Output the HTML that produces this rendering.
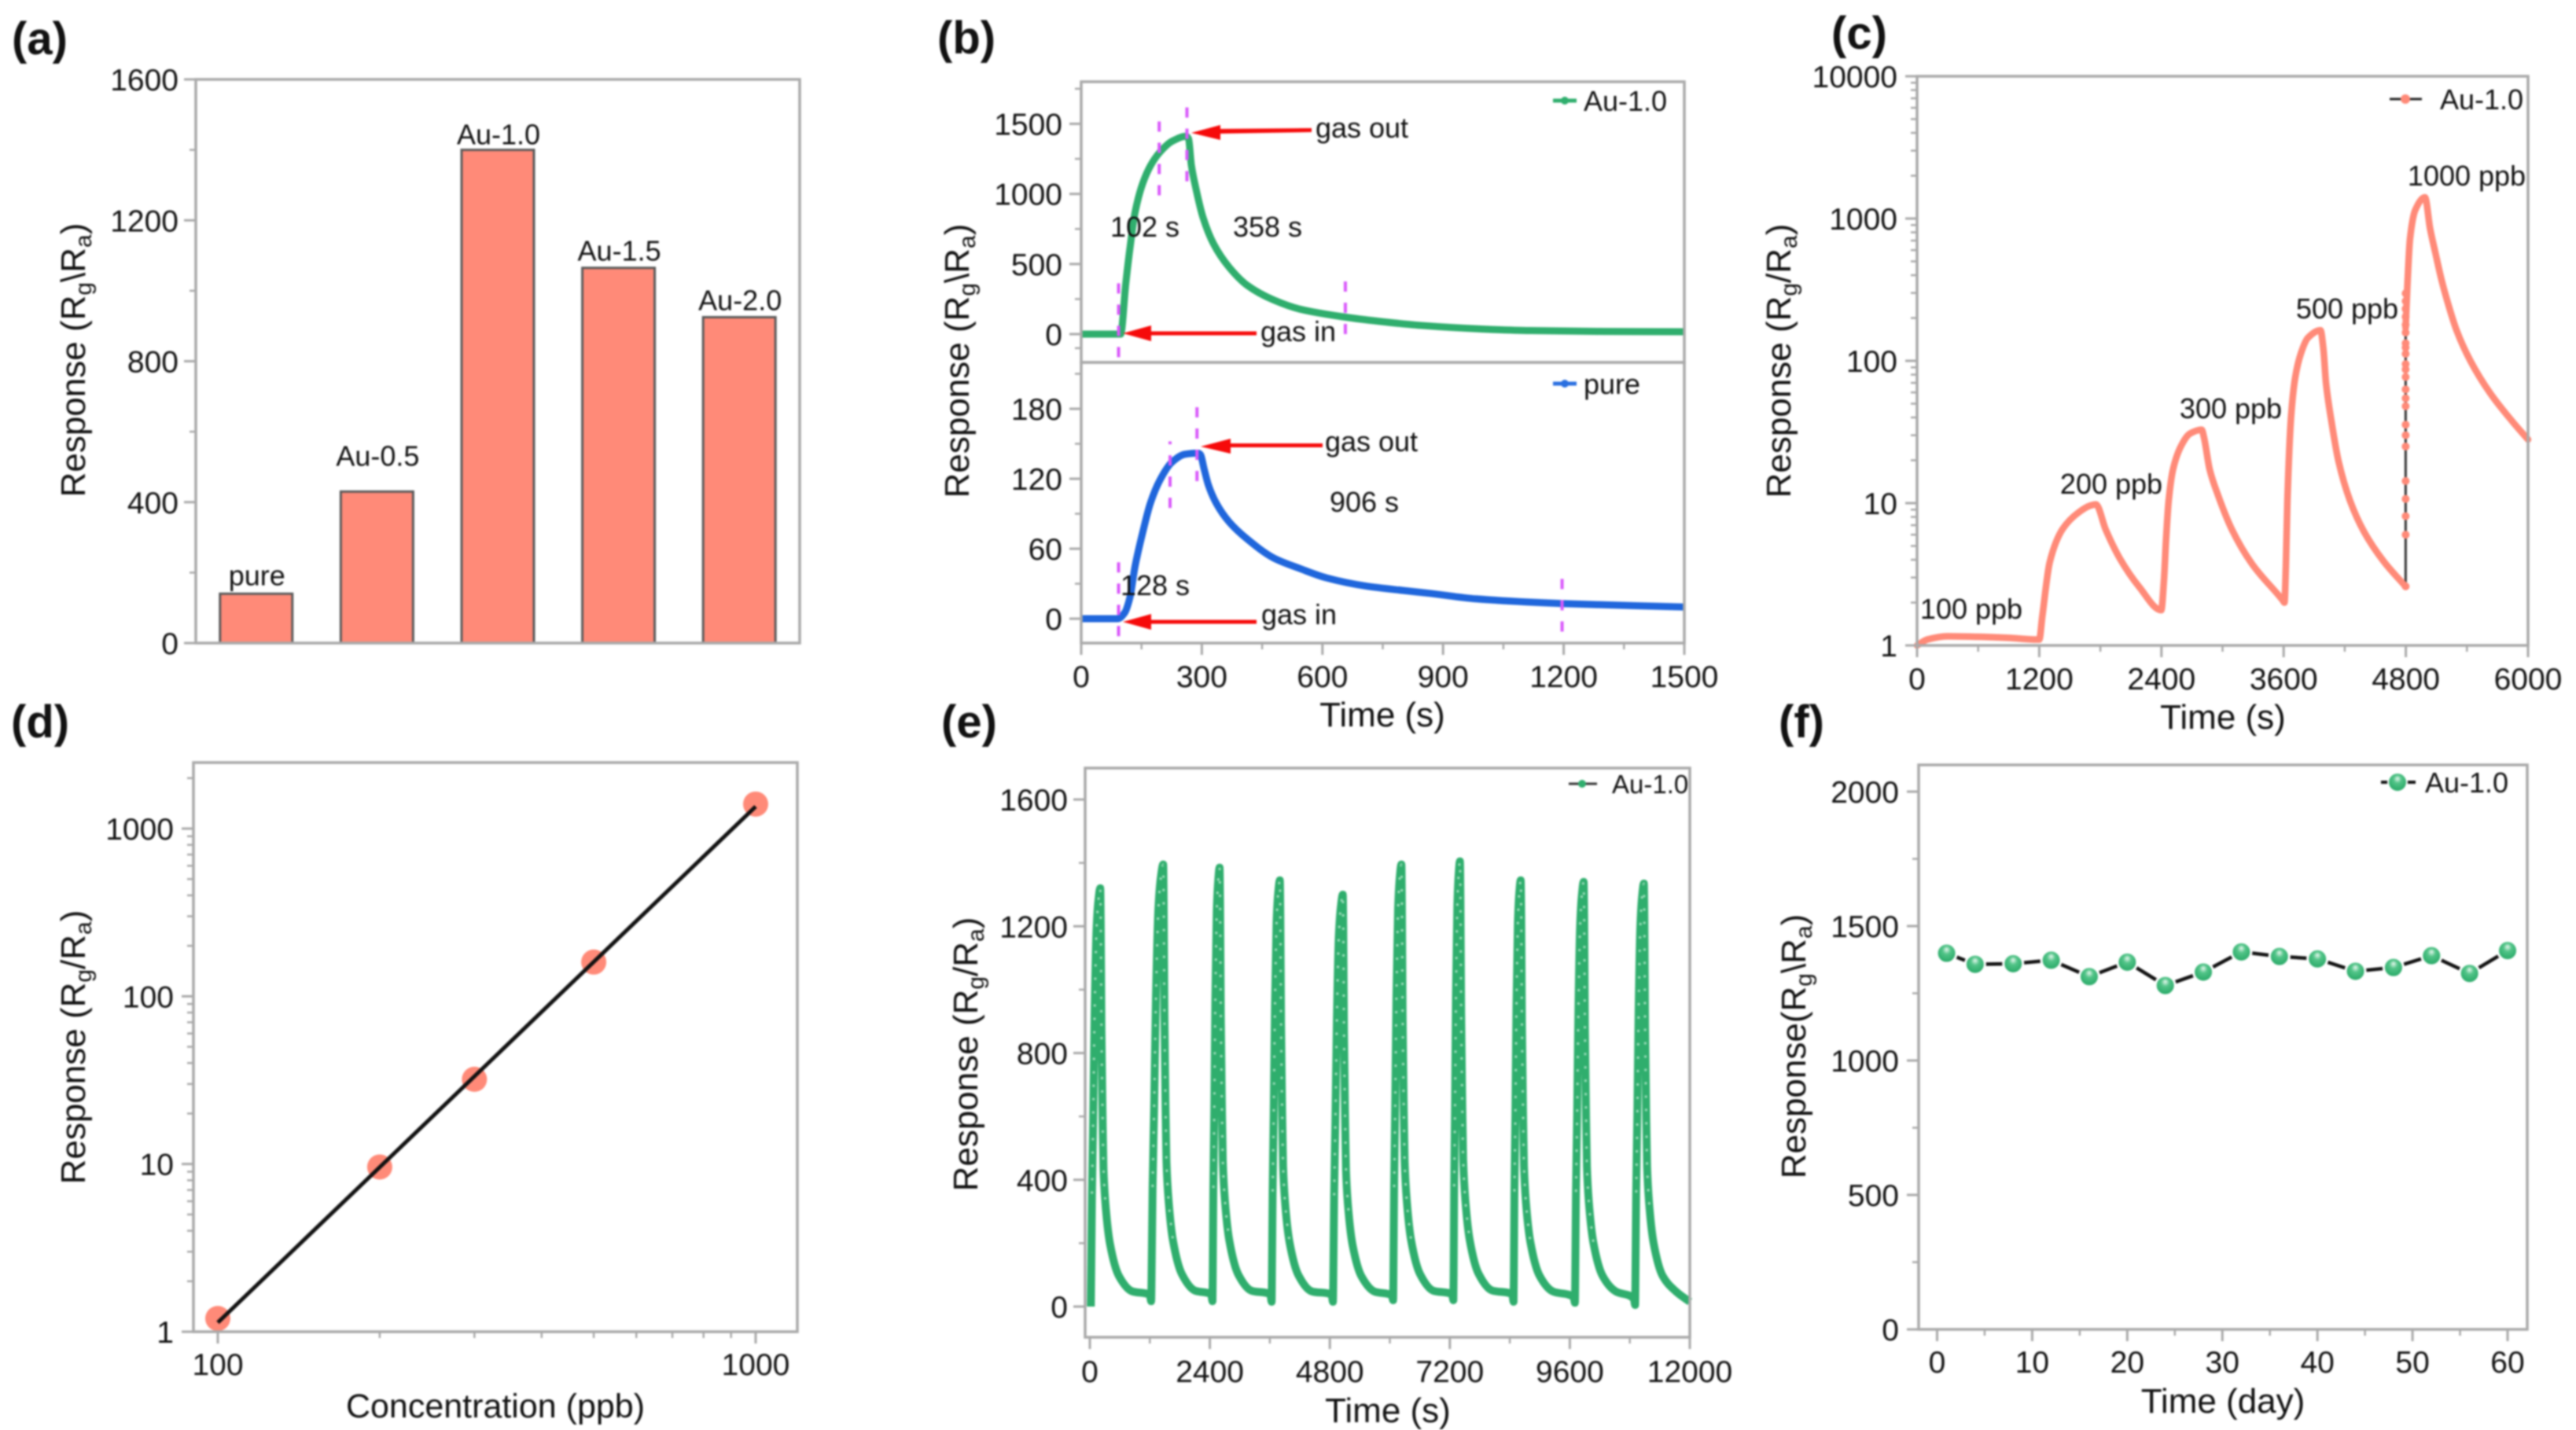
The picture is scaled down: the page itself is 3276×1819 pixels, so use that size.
<!DOCTYPE html>
<html lang="en">
<head>
<meta charset="utf-8">
<title>Gas sensor response panels</title>
<style>
html,body{margin:0;padding:0;background:#fff;}
svg{display:block;filter:blur(1px);}
text{font-family:"Liberation Sans",Arial,sans-serif;fill:#111;}
.panel-label{font-size:58px;font-weight:bold;fill:#111;}
.axis-title{font-size:44px;text-anchor:middle;}
.note{font-size:36px;}
.mid{text-anchor:middle;}
</style>
</head>
<body>
<svg id="figure" xmlns="http://www.w3.org/2000/svg" width="3276" height="1819" viewBox="0 0 3276 1819">
<defs>
<radialGradient id="ballGreen" cx="0.5" cy="0.42" r="0.6" fx="0.5" fy="0.3">
<stop offset="0" stop-color="#e8f8ef"/><stop offset="0.35" stop-color="#52c488"/><stop offset="1" stop-color="#22a562"/>
</radialGradient>
</defs>
<rect width="3276" height="1819" fill="#fff"/>

<text class="panel-label" x="15" y="69">(a)</text>
<text class="panel-label" x="1192" y="68">(b)</text>
<text class="panel-label" x="2329" y="62">(c)</text>
<text class="panel-label" x="14" y="938">(d)</text>
<text class="panel-label" x="1197" y="938">(e)</text>
<text class="panel-label" x="2262" y="938">(f)</text>

<text class="axis-title" transform="translate(108,458) rotate(-90)">Response (R<tspan dy="8" font-size="30">g</tspan><tspan dy="-8">\R</tspan><tspan dy="8" font-size="30">a</tspan><tspan dy="-8">)</tspan></text>
<text class="axis-title" transform="translate(1232,459) rotate(-90)">Response (R<tspan dy="8" font-size="30">g</tspan><tspan dy="-8">\R</tspan><tspan dy="8" font-size="30">a</tspan><tspan dy="-8">)</tspan></text>
<text class="axis-title" x="1758" y="924">Time (s)</text>
<text class="axis-title" transform="translate(2277,459) rotate(-90)">Response (R<tspan dy="8" font-size="30">g</tspan><tspan dy="-8">/R</tspan><tspan dy="8" font-size="30">a</tspan><tspan dy="-8">)</tspan></text>
<text class="axis-title" x="2827" y="927">Time (s)</text>
<text class="axis-title" transform="translate(108,1332) rotate(-90)">Response (R<tspan dy="8" font-size="30">g</tspan><tspan dy="-8">/R</tspan><tspan dy="8" font-size="30">a</tspan><tspan dy="-8">)</tspan></text>
<text class="axis-title" x="630" y="1803" style="font-size:43px">Concentration (ppb)</text>
<text class="axis-title" transform="translate(1243,1341) rotate(-90)">Response (R<tspan dy="8" font-size="30">g</tspan><tspan dy="-8">/R</tspan><tspan dy="8" font-size="30">a</tspan><tspan dy="-8">)</tspan></text>
<text class="axis-title" x="1765" y="1809">Time (s)</text>
<text class="axis-title" transform="translate(2296,1331) rotate(-90)">Response(R<tspan dy="8" font-size="30">g</tspan><tspan dy="-8">\R</tspan><tspan dy="8" font-size="30">a</tspan><tspan dy="-8">)</tspan></text>
<text class="axis-title" x="2827" y="1797">Time (day)</text>

<g id="layer-a"></g>
<g id="layer-b"></g>
<g id="layer-c"></g>
<g id="layer-d"></g>
<g id="layer-e"></g>
<g id="layer-f"></g>

<g>
<text class="note mid" x="1732" y="175">gas out</text>
<text class="note mid" x="1456" y="301">102 s</text>
<text class="note mid" x="1612" y="301">358 s</text>
<text class="note mid" x="1651" y="434">gas in</text>
<text class="note mid" x="1744" y="574">gas out</text>
<text class="note mid" x="1735" y="651">906 s</text>
<text class="note mid" x="1469" y="757">128 s</text>
<text class="note mid" x="1652" y="794">gas in</text>
<g fill="#f60a0a"><polygon points="1550,164 1668,163 1668,168 1550,170"/><polygon points="1515,169 1552,159 1552,178"/></g>
<g fill="#f60a0a"><rect x="1462" y="421.5" width="136" height="5"/><polygon points="1428,424 1464,414 1464,434"/></g>
<g fill="#f60a0a"><rect x="1563" y="564" width="119" height="5"/><polygon points="1527,568 1565,558 1565,577"/></g>
<g fill="#f60a0a"><rect x="1462" y="788.5" width="136" height="5"/><polygon points="1428,791 1464,781 1464,801"/></g>
</g>

<g>
<line x1="1975" y1="128" x2="2005" y2="128" stroke="#2fae6d" stroke-width="5"/>
<circle cx="1990" cy="128" r="5" fill="#2fae6d"/>
<text class="note" x="2014" y="141">Au-1.0</text>
<line x1="1975" y1="488" x2="2005" y2="488" stroke="#2a6fe0" stroke-width="5"/>
<circle cx="1990" cy="488" r="5" fill="#2a6fe0"/>
<text class="note" x="2014" y="501">pure</text>
</g>
<g>
<text class="note mid" x="2507" y="787">100 ppb</text>
<text class="note mid" x="2685" y="628">200 ppb</text>
<text class="note mid" x="2837" y="532">300 ppb</text>
<text class="note mid" x="2985" y="405">500 ppb</text>
<text class="note mid" x="3137" y="236">1000 ppb</text>
<line x1="3039" y1="126" x2="3080" y2="126" stroke="#222" stroke-width="3"/>
<circle cx="3059" cy="126" r="6" fill="#ff8a78"/>
<text class="note" x="3103" y="139">Au-1.0</text>
</g>
<g>
<line x1="1995" y1="997" x2="2031" y2="997" stroke="#333" stroke-width="3"/>
<circle cx="2012" cy="997" r="5" fill="#2fae6d"/>
<text x="2050" y="1009" font-size="33">Au-1.0</text>
</g>
<g>
<line x1="3028" y1="995" x2="3072" y2="995" stroke="#111" stroke-width="4"/>
<circle cx="3049" cy="995" r="12" fill="url(#ballGreen)" stroke="#fff" stroke-width="2"/>
<text class="note" x="3084" y="1008">Au-1.0</text>
</g>
</svg>

<script>
/* ---------- panel a ---------- */
const aCategories = ['pure', 'Au-0.5', 'Au-1.0', 'Au-1.5', 'Au-2.0'];
const aValues = [140, 430, 1400, 1065, 925];
const aTicks = [0, 400, 800, 1200, 1600];
const aMinorTicks = [200, 600, 1000, 1400];

/* ---------- panel b ---------- */
const bAuTimes = [0, 95, 98, 111, 121, 134, 153, 173, 196, 225, 261, 267, 274, 284, 303, 329, 368, 414, 479, 544, 655, 739, 845, 1000, 1118, 1300, 1500];
const bAuValues = [0, 0, 0, 364, 607, 869, 1075, 1205, 1299, 1374, 1411, 1393, 1205, 1056, 832, 645, 477, 346, 243, 178, 122, 92, 62, 36, 25, 19, 17];
const bPureTimes = [0, 91, 108, 121, 134, 153, 172, 196, 225, 258, 290, 296, 306, 316, 336, 368, 414, 479, 544, 610, 708, 806, 870, 982, 1196, 1500];
const bPureValues = [0, 0, 5, 18, 45, 74, 99, 119, 134, 141, 142, 141, 128, 115, 99, 83, 68, 52, 43, 35, 28, 24, 21.6, 17, 13, 10];
const bAuDashTimes = [93, 194, 263, 657];
const bAuDashLow = [-165, 990, 1090, 0];
const bAuDashHigh = [380, 1540, 1650, 380];
const bPureDashTimes = [93, 221, 288, 1196];
const bPureDashLow = [-15, 95, 118, -11];
const bPureDashHigh = [53, 152, 183, 36];
const bXTicks = [0, 300, 600, 900, 1200, 1500];
const bXMinorTicks = [150, 450, 750, 1050, 1350];
const bAuTicks = [0, 500, 1000, 1500];
const bAuMinorTicks = [-100, 250, 750, 1250, 1750];
const bPureTicks = [0, 60, 120, 180];
const bPureMinorTicks = [30, 90, 150, 210];

/* ---------- panel c ---------- */
const cTimes = [0, 100, 300, 600, 900, 1180, 1200, 1230, 1303, 1431, 1586, 1700, 1756, 1853, 1990, 2183, 2398, 2425, 2445, 2471, 2514, 2595, 2680, 2795, 2818, 2873, 2955, 3093, 3286, 3590, 3608, 3622, 3637, 3673, 3714, 3768, 3838, 3962, 3990, 4016, 4071, 4139, 4252, 4389, 4582, 4797];
const cValues = [1, 1.1, 1.16, 1.15, 1.13, 1.1, 1.1, 1.6, 3.85, 6.6, 8.6, 9.6, 9.8, 6.5, 4.1, 2.57, 1.77, 2.9, 5.5, 10.4, 17.3, 25.4, 30.8, 32.8, 28.9, 17.3, 11.4, 6.5, 3.77, 2.08, 2.0, 3.6, 10.4, 40.5, 76.6, 112, 145, 164, 122, 70, 37, 19.7, 10.4, 6.3, 3.9, 2.6];
const cJumpTime = 4798;
const cJumpValues = [2.6, 6, 8.1, 10.7, 14.3, 25, 30, 35.6, 48, 54.6, 63, 77, 87, 95, 112, 124, 133, 158, 179, 204, 232, 263, 298];
const cAfterTimes = [4798, 4815, 4841, 4893, 4988, 5038, 5090, 5150, 5220, 5298, 5437, 5630, 5853, 6000];
const cAfterValues = [170, 335, 720, 1150, 1410, 851, 575, 372, 245, 164, 99, 59, 37, 28];
const cXTicks = [0, 1200, 2400, 3600, 4800, 6000];
const cXMinorTicks = [600, 1800, 3000, 4200, 5400];
const cYTicks = [1, 10, 100, 1000, 10000];
const cYMinorTicks = [2, 3, 4, 5, 6, 7, 8, 9, 20, 30, 40, 50, 60, 70, 80, 90, 200, 300, 400, 500, 600, 700, 800, 900, 2000, 3000, 4000, 5000, 6000, 7000, 8000, 9000];

/* ---------- panel d ---------- */
const dConcentrations = [100, 200, 300, 500, 1000];
const dResponses = [1.2, 9.6, 32, 160, 1400];
const dFitConcentrations = [100, 1000];
const dFitResponses = [1.135, 1355];
const dXTicks = [100, 1000];
const dXMinorTicks = [200, 300, 400, 500, 600, 700, 800, 900];
const dYTicks = [1, 10, 100, 1000];
const dYMinorTicks = [2, 3, 4, 5, 6, 7, 8, 9, 20, 30, 40, 50, 60, 70, 80, 90, 200, 300, 400, 500, 600, 700, 800, 900, 2000];

/* ---------- panel e ---------- */
const eTimes = [
  20, 29, 43, 67, 95, 133, 170, 208, 218, 233, 253, 273, 323, 403, 583, 848, 1201,
  1226, 1238, 1255, 1286, 1322, 1371, 1419, 1467, 1477, 1492, 1512, 1532, 1582, 1662, 1842, 2107, 2428,
  2453, 2460, 2470, 2489, 2510, 2538, 2567, 2595, 2605, 2620, 2640, 2660, 2710, 2790, 2970, 3235, 3611,
  3636, 3644, 3656, 3677, 3702, 3734, 3767, 3800, 3810, 3825, 3845, 3865, 3915, 3995, 4175, 4440, 4837,
  4862, 4872, 4886, 4911, 4941, 4980, 5020, 5059, 5069, 5084, 5104, 5124, 5174, 5254, 5434, 5699, 6041,
  6066, 6074, 6086, 6107, 6132, 6165, 6198, 6231, 6241, 6256, 6276, 6296, 6346, 6426, 6606, 6871, 7246,
  7271, 7278, 7287, 7304, 7323, 7350, 7376, 7402, 7412, 7427, 7447, 7467, 7517, 7597, 7777, 8042, 8450,
  8475, 8482, 8492, 8511, 8532, 8561, 8589, 8618, 8628, 8643, 8663, 8683, 8733, 8813, 8993, 9258, 9677,
  9702, 9711, 9723, 9746, 9772, 9807, 9842, 9877, 9887, 9902, 9922, 9942, 9992, 10072, 10252, 10517, 10881,
  10906, 10915, 10927, 10950, 10976, 11011, 11046, 11081, 11091, 11106, 11126, 11146, 11196, 11276, 11456, 11721, 12000
];
const eValues = [
  0, 132, 356, 594, 924, 1188, 1280, 1320, 1214, 871, 620, 436, 304, 198, 96, 48, 37,
  17, 140, 377, 628, 977, 1256, 1353, 1395, 1283, 921, 656, 460, 321, 209, 102, 50, 39,
  17, 139, 374, 623, 970, 1247, 1343, 1385, 1274, 914, 651, 457, 319, 208, 101, 50, 39,
  15, 135, 363, 605, 942, 1211, 1305, 1345, 1237, 888, 632, 444, 309, 202, 98, 48, 38,
  15, 130, 351, 585, 910, 1170, 1261, 1300, 1196, 858, 611, 429, 299, 195, 95, 47, 36,
  20, 140, 377, 628, 977, 1256, 1353, 1395, 1283, 921, 656, 460, 321, 209, 102, 50, 39,
  20, 141, 379, 632, 984, 1265, 1363, 1405, 1293, 927, 660, 464, 323, 211, 103, 51, 39,
  15, 135, 363, 605, 942, 1211, 1305, 1345, 1237, 888, 632, 444, 309, 202, 98, 48, 30,
  12, 134, 362, 603, 938, 1206, 1300, 1340, 1233, 884, 630, 442, 308, 201, 98, 48, 25,
  5, 134, 360, 601, 935, 1202, 1295, 1335, 1228, 881, 627, 441, 307, 200, 97, 48, 15
];
const eXTicks = [0, 2400, 4800, 7200, 9600, 12000];
const eXMinorTicks = [1200, 3600, 6000, 8400, 10800];
const eYTicks = [0, 400, 800, 1200, 1600];
const eYMinorTicks = [200, 600, 1000, 1400];

/* ---------- panel f ---------- */
const fDays = [1, 4, 8, 12, 16, 20, 24, 28, 32, 36, 40, 44, 48, 52, 56, 60];
const fResponses = [1399, 1358, 1360, 1373, 1312, 1366, 1279, 1329, 1404, 1387, 1378, 1332, 1346, 1390, 1324, 1409];
const fXTicks = [0, 10, 20, 30, 40, 50, 60];
const fXMinorTicks = [5, 15, 25, 35, 45, 55];
const fYTicks = [0, 500, 1000, 1500, 2000];
const fYMinorTicks = [250, 750, 1250, 1750];

/* ---------- helpers ---------- */
const NS = 'http://www.w3.org/2000/svg';
const GRAY = '#a9a9a9';
function make(tag, parent, attrs) {
  const el = document.createElementNS(NS, tag);
  for (const k in attrs) el.setAttribute(k, attrs[k]);
  parent.appendChild(el);
  return el;
}
function linear(d0, d1, r0, r1) {
  return function (v) { return r0 + (v - d0) * (r1 - r0) / (d1 - d0); };
}
function logarithmic(d0, d1, r0, r1) {
  return function (v) { return r0 + (Math.log10(v) - Math.log10(d0)) * (r1 - r0) / (Math.log10(d1) - Math.log10(d0)); };
}
function drawFrame(g, x0, y0, x1, y1) {
  const el = make('rect', g, { x: x0, y: y0, width: x1 - x0, height: y1 - y0, fill: 'none', stroke: GRAY, 'stroke-width': 3.5 });
  
  
}
function drawYAxis(g, xEdge, labelX, scale, ticks, minors, top, bottom) {
  ticks.forEach(function (v) {
    const y = scale(v);
    const t = make('line', g, { x1: xEdge - 15, x2: xEdge, y1: y, y2: y, stroke: GRAY, 'stroke-width': 3 });
    
    
    const l = make('text', g, { x: labelX, y: y + 14, 'text-anchor': 'end', 'font-size': 39 });
    
    
    l.textContent = v;
  });
  minors.forEach(function (v) {
    const y = scale(v);
    if (y < top || y > bottom) return;
    const t = make('line', g, { x1: xEdge - 8, x2: xEdge, y1: y, y2: y, stroke: GRAY, 'stroke-width': 2.5 });
    
    
  });
}
function drawXAxis(g, yEdge, labelY, scale, ticks, minors) {
  ticks.forEach(function (v) {
    const x = scale(v);
    const t = make('line', g, { x1: x, x2: x, y1: yEdge, y2: yEdge + 15, stroke: GRAY, 'stroke-width': 3 });
    
    
    const l = make('text', g, { x: x, y: labelY, 'text-anchor': 'middle', 'font-size': 39 });
    
    
    l.textContent = v;
  });
  minors.forEach(function (v) {
    const x = scale(v);
    const t = make('line', g, { x1: x, x2: x, y1: yEdge, y2: yEdge + 8, stroke: GRAY, 'stroke-width': 2.5 });
    
    
  });
}
/* monotone cubic through the mapped points: no overshoot, no stair-steps */
function smoothPath(xs, ys, sx, sy) {
  const p = xs.map(function (x, i) { return [sx(x), sy(ys[i])]; });
  const n = p.length;
  const sec = [];
  for (let i = 0; i < n - 1; i++) sec.push((p[i + 1][1] - p[i][1]) / Math.max(p[i + 1][0] - p[i][0], 0.01));
  const m = [];
  for (let i = 0; i < n; i++) {
    if (i === 0) { m.push(sec[0]); continue; }
    if (i === n - 1) { m.push(sec[n - 2]); continue; }
    const s0 = sec[i - 1], s1 = sec[i];
    if (s0 * s1 <= 0) { m.push(0); continue; }
    const h0 = p[i][0] - p[i - 1][0], h1 = p[i + 1][0] - p[i][0];
    m.push((2 * h1 + h0 + h1 + 2 * h0 - h1 - h0 + 0) === 0 ? 0 : (3 * (h0 + h1)) / ((2 * h1 + h0) / s0 + (h1 + 2 * h0) / s1));
  }
  let d = 'M' + p[0][0].toFixed(1) + ' ' + p[0][1].toFixed(1);
  for (let i = 0; i < n - 1; i++) {
    const h = (p[i + 1][0] - p[i][0]) / 3;
    d += 'C' + (p[i][0] + h).toFixed(2) + ' ' + (p[i][1] + m[i] * h).toFixed(2) + ' ' +
      (p[i + 1][0] - h).toFixed(2) + ' ' + (p[i + 1][1] - m[i + 1] * h).toFixed(2) + ' ' +
      p[i + 1][0].toFixed(2) + ' ' + p[i + 1][1].toFixed(2);
  }
  return d;
}
function straightPath(xs, ys, sx, sy) {
  return xs.map(function (x, i) { return (i ? 'L' : 'M') + sx(x).toFixed(1) + ' ' + sy(ys[i]).toFixed(1); }).join('');
}

/* ---------- draw panel a ---------- */
(function () {
  const g = document.getElementById('layer-a');
  const x0 = 249, x1 = 1017, y0 = 101, y1 = 818;
  const sy = linear(0, 1600, y1, y0);
  const band = (x1 - x0) / aCategories.length;
  const lift = [11, 33, 7, 9, 9];
  aCategories.forEach(function (c, i) {
    const cx = x0 + band * (i + 0.5);
    const bar = make('rect', g, { x: cx - 46, y: sy(aValues[i]), width: 92, height: y1 - sy(aValues[i]), fill: '#ff8a78', stroke: '#5a5a5a', 'stroke-width': 3 });
    
    
    const t = make('text', g, { x: cx + 1, y: sy(aValues[i]) - lift[i], 'text-anchor': 'middle', 'font-size': 36 });
    
    
    t.textContent = c;
  });
  drawFrame(g, x0, y0, x1, y1);
  drawYAxis(g, x0, 227, sy, aTicks, aMinorTicks, y0, y1);
})();

/* ---------- draw panel b ---------- */
(function () {
  const g = document.getElementById('layer-b');
  const x0 = 1375, x1 = 2142, top = 104, mid = 461, bot = 818;
  const sx = linear(0, 1500, x0, x1);
  const syAu = linear(0, 1500, 425, 157.5);
  const syPure = linear(0, 180, 787, 520);
  const au = make('path', g, { d: smoothPath(bAuTimes, bAuValues, sx, syAu), fill: 'none', stroke: '#2fae6d', 'stroke-width': 9, 'stroke-linejoin': 'round' });
  
  
  const pure = make('path', g, { d: smoothPath(bPureTimes, bPureValues, sx, syPure), fill: 'none', stroke: '#1f66dc', 'stroke-width': 9, 'stroke-linejoin': 'round' });
  
  
  bAuDashTimes.forEach(function (t, i) {
    const d = make('line', g, { x1: sx(t), x2: sx(t), y1: syAu(bAuDashLow[i]), y2: syAu(bAuDashHigh[i]), stroke: '#d958fb', 'stroke-width': 4, 'stroke-dasharray': '13 14' });
    
    
  });
  bPureDashTimes.forEach(function (t, i) {
    const d = make('line', g, { x1: sx(t), x2: sx(t), y1: syPure(bPureDashLow[i]), y2: syPure(bPureDashHigh[i]), stroke: '#d958fb', 'stroke-width': 4, 'stroke-dasharray': '13 14' });
    
    
  });
  drawFrame(g, x0, top, x1, mid);
  drawFrame(g, x0, mid, x1, bot);
  drawYAxis(g, x0, 1351, syAu, bAuTicks, bAuMinorTicks, top, mid);
  drawYAxis(g, x0, 1351, syPure, bPureTicks, bPureMinorTicks, mid, bot);
  drawXAxis(g, bot, 874, sx, bXTicks, bXMinorTicks);
})();

/* ---------- draw panel c ---------- */
(function () {
  const g = document.getElementById('layer-c');
  const x0 = 2438, x1 = 3215, y0 = 97, y1 = 821;
  const sx = linear(0, 6000, x0, x1);
  const sy = logarithmic(1, 10000, y1, y0);
  const jump = make('line', g, { x1: sx(cJumpTime), x2: sx(cJumpTime), y1: sy(cJumpValues[0]), y2: sy(cAfterValues[0]), stroke: '#333', 'stroke-width': 3 });
  
  
  const a = make('path', g, { d: smoothPath(cTimes, cValues, sx, sy), fill: 'none', stroke: '#ff8a78', 'stroke-width': 8.5, 'stroke-linejoin': 'round', 'stroke-linecap': 'round' });
  
  
  const b = make('path', g, { d: smoothPath(cAfterTimes, cAfterValues, sx, sy), fill: 'none', stroke: '#ff8a78', 'stroke-width': 8.5, 'stroke-linejoin': 'round', 'stroke-linecap': 'round' });
  
  
  cJumpValues.forEach(function (v) {
    const c = make('circle', g, { cx: sx(cJumpTime), cy: sy(v), r: 5, fill: '#ff8a78' });
    
    
  });
  drawFrame(g, x0, y0, x1, y1);
  drawYAxis(g, x0, 2413, sy, cYTicks, cYMinorTicks, y0, y1);
  drawXAxis(g, y1, 877, sx, cXTicks, cXMinorTicks);
})();

/* ---------- draw panel d ---------- */
(function () {
  const g = document.getElementById('layer-d');
  const x0 = 246, x1 = 1014, y0 = 970, y1 = 1694;
  const sx = logarithmic(100, 1000, 277, 961);
  const sy = logarithmic(1, 1000, y1, 1054);
  dConcentrations.forEach(function (c, i) {
    const p = make('circle', g, { cx: sx(c), cy: sy(dResponses[i]), r: 16, fill: '#ff8a78' });
    
    
  });
  const fit = make('path', g, { d: straightPath(dFitConcentrations, dFitResponses, sx, sy), fill: 'none', stroke: '#111', 'stroke-width': 5 });
  
  
  drawFrame(g, x0, y0, x1, y1);
  drawYAxis(g, x0, 221, sy, dYTicks, dYMinorTicks, y0, y1);
  drawXAxis(g, y1, 1749, sx, dXTicks, dXMinorTicks);
})();

/* ---------- draw panel e ---------- */
(function () {
  const g = document.getElementById('layer-e');
  const x0 = 1380, x1 = 2149, y0 = 977, y1 = 1701;
  const sx = linear(0, 12000, 1386, x1);
  const sy = linear(0, 1600, 1662, 1017);
  const line = make('path', g, { d: smoothPath(eTimes, eValues, sx, sy), fill: 'none', stroke: '#2fae6d', 'stroke-width': 10, 'stroke-linejoin': 'round' });
  
  
  /* light marker speckle only on the steep parts of every cycle */
  let start = -1;
  for (let i = 0; i <= eTimes.length; i++) {
    const high = i < eTimes.length && eValues[i] > 200;
    if (high && start < 0) start = i;
    if (!high && start >= 0) {
      const speck = make('path', g, { d: smoothPath(eTimes.slice(start, i), eValues.slice(start, i), sx, sy), fill: 'none', stroke: '#a6e0c0', 'stroke-width': 3, 'stroke-dasharray': '3 14', opacity: 0.9 });
      
      
      start = -1;
    }
  }
  drawFrame(g, x0, y0, x1, y1);
  drawYAxis(g, x0, 1358, sy, eYTicks, eYMinorTicks, y0, y1);
  drawXAxis(g, y1, 1758, sx, eXTicks, eXMinorTicks);
})();

/* ---------- draw panel f ---------- */
(function () {
  const g = document.getElementById('layer-f');
  const x0 = 2440, x1 = 3214, y0 = 973, y1 = 1691;
  const sx = linear(0, 60, 2463.5, 3189);
  const sy = linear(0, 2000, y1, 1007);
  const line = make('path', g, { d: straightPath(fDays, fResponses, sx, sy), fill: 'none', stroke: '#111', 'stroke-width': 4.5 });
  
  
  fDays.forEach(function (day, i) {
    const dot = make('circle', g, { cx: sx(day), cy: sy(fResponses[i]), r: 12.5, fill: 'url(#ballGreen)', stroke: '#fff', 'stroke-width': 3 });
    
    
  });
  drawFrame(g, x0, y0, x1, y1);
  drawYAxis(g, x0, 2415, sy, fYTicks, fYMinorTicks, y0, y1);
  drawXAxis(g, y1, 1746, sx, fXTicks, fXMinorTicks);
})();
</script>
</body>
</html>
